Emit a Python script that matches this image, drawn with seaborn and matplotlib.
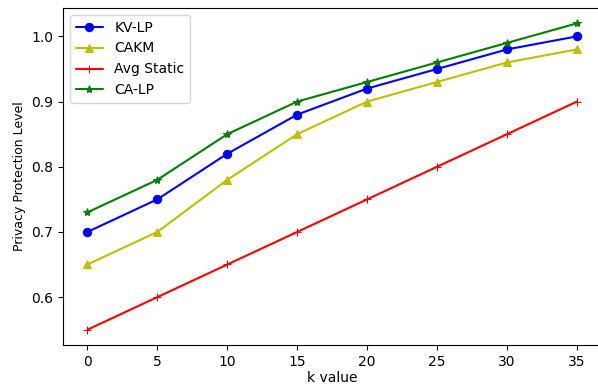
import numpy as np
import pandas as pd
import matplotlib
matplotlib.use("Agg")
import matplotlib.pyplot as plt
import seaborn as sns

sns.set_style("ticks", {"axes.edgecolor": "black", "xtick.color": "black",
                        "ytick.color": "black", "text.color": "black",
                        "axes.labelcolor": "black"})
plt.rcParams['font.family'] = ['DejaVu Sans']

k_values = [0, 5, 10, 15, 20, 25, 30, 35]
kv_lp = [0.70, 0.75, 0.82, 0.88, 0.92, 0.95, 0.98, 1.00]
cakm = [0.65, 0.70, 0.78, 0.85, 0.90, 0.93, 0.96, 0.98]
avg_static = [0.55, 0.60, 0.65, 0.70, 0.75, 0.80, 0.85, 0.90]
ca_lp = [0.73, 0.78, 0.85, 0.90, 0.93, 0.96, 0.99, 1.02]

series = [("KV-LP", kv_lp, "b", "o"),
          ("CAKM", cakm, "y", "^"),
          ("Avg Static", avg_static, "r", "+"),
          ("CA-LP", ca_lp, "g", "*")]

fig = plt.figure(figsize=(5.98, 3.87), dpi=100)
ax = fig.add_axes([63 / 598, 1 - 345 / 387, (601.5 - 63) / 598, (345 - 8) / 387])

for name, vals, color, marker in series:
    df = pd.DataFrame({"k": k_values, "v": vals})
    sns.lineplot(data=df, x="k", y="v", ax=ax, color=color, marker=marker,
                 markersize=6, markeredgecolor=color, label=name, linewidth=1.5)

ax.set_xticks(k_values)
ax.set_yticks([0.6, 0.7, 0.8, 0.9, 1.0])
ax.set_xlabel("k value", fontsize=10, labelpad=2)
ax.set_ylabel("Privacy Protection Level", fontsize=9)
ax.tick_params(labelsize=10)
ax.legend(loc="upper left", fontsize=10)

fig.savefig("out.png", dpi=100)
